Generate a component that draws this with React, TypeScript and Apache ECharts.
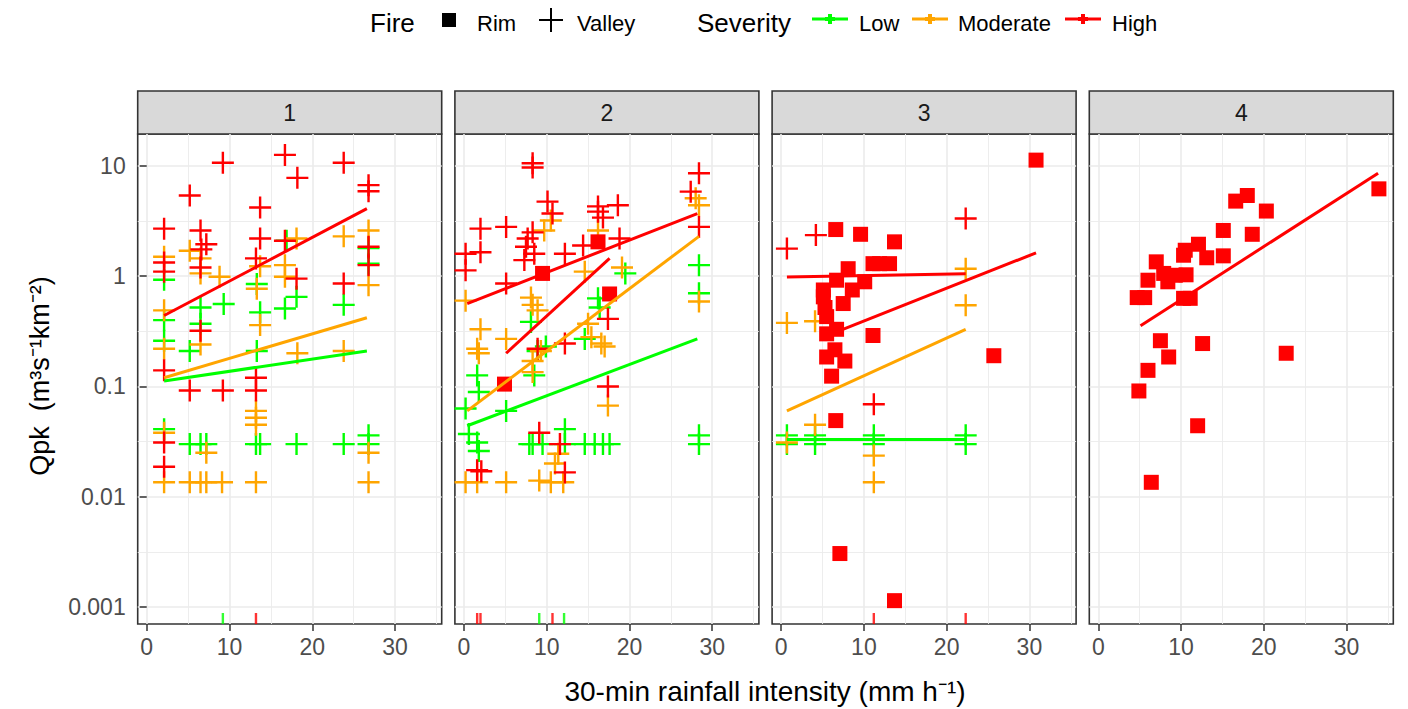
import React, { useEffect, useRef } from "react";
import * as echarts from "echarts";

type Pt = [number, number];

// ---------- axes / labels ----------
const panelLabels = ["1", "2", "3", "4"];
const xTicks = [0, 10, 20, 30];
const xMinorTicks = [5, 15, 25, 35];
const yTicks = [0.001, 0.01, 0.1, 1, 10];
const yMinorTicks = [0.00316, 0.0316, 0.316, 3.16];
const X_MIN = -1.09;
const X_MAX = 35.64;
const Y_MIN = 0.0007;
const Y_MAX = 19.5;

const severities = ["Low", "Moderate", "High"];
const fires = ["Rim", "Valley"];

// ---------- panel 1 ----------
const p1ValleyLow: Pt[] = [
  [2.1, 0.93], [2.1, 0.4], [2.1, 0.26], [5.2, 0.21], [6.5, 0.52], [6.5, 0.37], [9.3, 0.56],
  [13.7, 0.47], [13.3, 0.85], [13.3, 0.21], [16.7, 0.51], [18.1, 0.65], [16.9, 2.1], [23.8, 0.55],
  [26.8, 1.8], [26.8, 1.3], [2.1, 0.041], [5.2, 0.03], [6.5, 0.03], [7.2, 0.03], [13.2, 0.03],
  [13.7, 0.03], [18.1, 0.03], [23.8, 0.03], [26.8, 0.03], [26.8, 0.036],
];
const p1ValleyLowZero = [9.2];
const p1ValleyModerate: Pt[] = [
  [2.1, 1.5], [5.2, 1.7], [6.5, 1.45], [6.5, 1.06], [8.8, 0.99], [13.7, 1.23], [13.3, 0.77],
  [13.7, 0.36], [16.7, 1.26], [16.7, 0.99], [18.1, 2.2], [23.8, 2.3], [26.8, 2.6], [26.8, 0.83],
  [2.1, 0.49], [2.1, 0.22], [6.5, 0.24], [18.2, 0.2], [23.8, 0.21], [13.2, 0.06], [13.2, 0.052],
  [13.2, 0.045], [2.1, 0.038], [7.2, 0.025], [26.8, 0.025], [2.1, 0.0135], [5.2, 0.0135],
  [6.5, 0.0135], [7.2, 0.0135], [9.1, 0.0135], [13.2, 0.0135], [26.8, 0.0135],
];
const p1ValleyHigh: Pt[] = [
  [9.2, 10.7], [16.7, 12.6], [23.8, 10.7], [18.2, 7.8], [26.8, 6.7], [26.8, 5.9], [5.2, 5.4],
  [13.7, 4.2], [2.1, 2.7], [6.5, 2.6], [7.2, 1.95], [6.6, 1.75], [13.7, 2.2], [16.7, 2.1],
  [13.2, 1.45], [2.1, 1.33], [2.1, 1.1], [6.5, 1.2], [18.1, 0.95], [23.8, 0.86], [26.8, 1.85],
  [26.8, 1.26], [6.5, 0.32], [2.1, 0.14], [5.2, 0.092], [9.2, 0.092], [13.2, 0.12], [13.2, 0.092],
  [2.1, 0.031], [2.1, 0.0187],
];
const p1ValleyHighZero = [13.2];
const p1LineLow: Pt[] = [[2.1, 0.112], [26.6, 0.21]];
const p1LineModerate: Pt[] = [[2.1, 0.12], [26.6, 0.42]];
const p1LineHigh: Pt[] = [[2.1, 0.44], [26.6, 4.1]];

// ---------- panel 2 ----------
const p2ValleyLow: Pt[] = [
  [1.6, 0.126], [1.8, 0.089], [0.2, 0.063], [5.1, 0.06], [8.5, 0.126], [8.9, 0.21], [9.9, 0.23],
  [8.1, 0.385], [16.2, 0.63], [16.4, 0.52], [14.6, 0.27], [19.5, 1.06], [28.4, 1.26], [28.4, 0.7],
  [28.4, 0.036], [28.4, 0.03], [0.6, 0.037], [1.6, 0.031], [1.8, 0.026], [7.9, 0.03], [8.3, 0.03],
  [9.5, 0.03], [12.2, 0.03], [12.2, 0.041], [14.6, 0.03], [15.8, 0.03], [16.8, 0.03], [17.6, 0.03],
];
const p2ValleyLowZero = [9.1, 12.1];
const p2ValleyModerate: Pt[] = [
  [0.2, 0.6], [2.0, 0.33], [1.6, 0.22], [1.8, 0.2], [5.1, 0.27], [8.1, 0.64], [8.3, 0.55],
  [8.9, 0.49], [9.7, 2.6], [10.5, 3.2], [8.3, 0.17], [8.3, 0.135], [9.3, 0.21], [15.0, 0.37],
  [15.4, 0.28], [16.6, 0.245], [17.0, 0.23], [16.2, 2.6], [19.1, 1.2], [14.6, 1.1], [17.4, 0.067],
  [28.0, 5.1], [28.4, 4.4], [28.4, 0.59], [11.4, 0.0245], [11.0, 0.02], [0.2, 0.0135],
  [1.6, 0.0135], [5.1, 0.0135], [9.1, 0.014], [10.5, 0.0135], [12.0, 0.0135],
];
const p2ValleyHigh: Pt[] = [
  [8.3, 10.6], [8.3, 9.7], [28.4, 8.6], [27.4, 5.85], [10.1, 4.75], [10.7, 3.7], [16.2, 4.3],
  [16.2, 3.85], [16.8, 3.4], [18.6, 4.4], [2.0, 2.7], [5.1, 2.8], [7.7, 2.2], [8.3, 2.5],
  [8.5, 1.6], [7.5, 1.85], [7.3, 1.4], [0.2, 1.6], [0.2, 1.13], [2.0, 1.65], [12.2, 1.6],
  [14.4, 1.9], [18.8, 2.2], [28.4, 2.8], [5.1, 0.86], [17.4, 0.41], [8.9, 0.22], [12.2, 0.245],
  [17.4, 0.1], [9.1, 0.038], [11.6, 0.03], [1.6, 0.0174], [2.1, 0.017], [12.2, 0.0166],
];
const p2ValleyHighZero = [1.6, 2.0, 10.7];
const p2RimHigh: Pt[] = [[9.5, 1.06], [16.2, 2.05], [17.6, 0.69], [4.9, 0.105]];
const p2LineLow: Pt[] = [[0.4, 0.044], [28.2, 0.27]];
const p2LineModerate: Pt[] = [[0.4, 0.06], [28.4, 2.3]];
const p2LineValleyHigh: Pt[] = [[0.4, 0.565], [28.2, 3.7]];
const p2LineRimHigh: Pt[] = [[5.1, 0.2], [17.6, 1.45]];

// ---------- panel 3 ----------
const p3ValleyLow: Pt[] = [
  [0.7, 0.036], [0.7, 0.03], [4.1, 0.036], [4.1, 0.03], [11.2, 0.036], [11.2, 0.03],
  [22.3, 0.036], [22.3, 0.03],
];
const p3ValleyModerate: Pt[] = [
  [0.7, 0.377], [4.1, 0.39], [22.3, 1.17], [22.3, 0.545], [4.1, 0.045], [0.7, 0.031],
  [11.2, 0.0236], [11.2, 0.0135],
];
const p3ValleyHigh: Pt[] = [[0.7, 1.78], [4.2, 2.36], [22.3, 3.34], [11.2, 0.069]];
const p3ValleyHighZero = [11.2, 22.3];
const p3RimHigh: Pt[] = [
  [30.8, 11.3], [6.6, 2.65], [9.6, 2.4], [13.7, 2.05], [11.1, 1.3], [11.9, 1.3], [13.1, 1.3],
  [8.1, 1.17], [6.7, 0.92], [10.1, 0.89], [8.6, 0.75], [5.1, 0.75], [5.1, 0.65], [7.5, 0.565],
  [5.3, 0.52], [6.7, 0.33], [5.5, 0.3], [5.5, 0.43], [11.1, 0.29], [5.5, 0.185], [6.5, 0.215],
  [7.7, 0.17], [6.1, 0.124], [25.7, 0.19], [6.6, 0.049], [7.1, 0.00305], [13.7, 0.00114],
];
const p3LineLow: Pt[] = [[0.7, 0.033], [22.3, 0.033]];
const p3LineModerate: Pt[] = [[0.7, 0.06], [22.3, 0.33]];
const p3LineValleyHigh: Pt[] = [[0.7, 0.985], [22.3, 1.05]];
const p3LineRimHigh: Pt[] = [[5.1, 0.28], [30.8, 1.63]];

// ---------- panel 4 ----------
const p4RimHigh: Pt[] = [
  [33.9, 6.2], [18.0, 5.4], [16.6, 4.8], [20.3, 3.9], [15.1, 2.6], [18.6, 2.4], [12.1, 1.95],
  [10.5, 1.72], [10.3, 1.55], [13.1, 1.47], [15.1, 1.53], [7.0, 1.35], [7.9, 1.06], [9.3, 1.02],
  [10.6, 1.03], [8.4, 0.89], [6.0, 0.92], [4.7, 0.64], [5.6, 0.64], [10.3, 0.63], [11.1, 0.63],
  [7.5, 0.26], [12.6, 0.245], [22.7, 0.2], [8.5, 0.185], [6.0, 0.14], [4.9, 0.091], [12.0, 0.044],
  [6.4, 0.0135],
];
const p4LineRimHigh: Pt[] = [[5.1, 0.355], [33.8, 8.6]];

// ---------- styling ----------
const COLORS: Record<string, string> = { Low: "#00FF00", Moderate: "#FFA500", High: "#FF0000" };
const FONT = "'Liberation Sans', Arial, sans-serif";
const CROSS = "path://M9.8,0H12.2V9.8H22V12.2H12.2V22H9.8V12.2H0V9.8H9.8Z";
const PANEL_LEFT0 = 137.7;
const PANEL_STEP = 317.2;
const PANEL_W = 304;
const PANEL_TOP = 134;
const PANEL_H = 490;
const STRIP_TOP = 91;

type PanelSpec = {
  points: { fire: string; sev: string; data: Pt[] }[];
  zeros: { sev: string; xs: number[] }[];
  lines: { sev: string; data: Pt[] }[];
};

const panelSpecs: PanelSpec[] = [
  {
    points: [
      { fire: "Valley", sev: "Low", data: p1ValleyLow },
      { fire: "Valley", sev: "Moderate", data: p1ValleyModerate },
      { fire: "Valley", sev: "High", data: p1ValleyHigh },
    ],
    zeros: [{ sev: "Low", xs: p1ValleyLowZero }, { sev: "High", xs: p1ValleyHighZero }],
    lines: [
      { sev: "Low", data: p1LineLow },
      { sev: "Moderate", data: p1LineModerate },
      { sev: "High", data: p1LineHigh },
    ],
  },
  {
    points: [
      { fire: "Valley", sev: "Low", data: p2ValleyLow },
      { fire: "Valley", sev: "Moderate", data: p2ValleyModerate },
      { fire: "Valley", sev: "High", data: p2ValleyHigh },
      { fire: "Rim", sev: "High", data: p2RimHigh },
    ],
    zeros: [{ sev: "Low", xs: p2ValleyLowZero }, { sev: "High", xs: p2ValleyHighZero }],
    lines: [
      { sev: "Low", data: p2LineLow },
      { sev: "Moderate", data: p2LineModerate },
      { sev: "High", data: p2LineValleyHigh },
      { sev: "High", data: p2LineRimHigh },
    ],
  },
  {
    points: [
      { fire: "Valley", sev: "Low", data: p3ValleyLow },
      { fire: "Valley", sev: "Moderate", data: p3ValleyModerate },
      { fire: "Valley", sev: "High", data: p3ValleyHigh },
      { fire: "Rim", sev: "High", data: p3RimHigh },
    ],
    zeros: [{ sev: "High", xs: p3ValleyHighZero }],
    lines: [
      { sev: "Low", data: p3LineLow },
      { sev: "Moderate", data: p3LineModerate },
      { sev: "High", data: p3LineValleyHigh },
      { sev: "High", data: p3LineRimHigh },
    ],
  },
  {
    points: [{ fire: "Rim", sev: "High", data: p4RimHigh }],
    zeros: [],
    lines: [{ sev: "High", data: p4LineRimHigh }],
  },
];

function fmtY(v: number): string {
  return String(parseFloat(Number(v).toPrecision(3)));
}

function buildOption(): any {
  const grid = panelLabels.map((_, i) => ({
    left: PANEL_LEFT0 + i * PANEL_STEP,
    top: PANEL_TOP,
    width: PANEL_W,
    height: PANEL_H,
    show: true,
    borderColor: "#333333",
    borderWidth: 1.6,
    backgroundColor: "#FFFFFF",
  }));

  const xAxis: any[] = [];
  const yAxis: any[] = [];
  panelLabels.forEach((_, i) => {
    xAxis.push({
      type: "value",
      gridIndex: i,
      min: X_MIN,
      max: X_MAX,
      axisLine: { show: false },
      axisTick: { show: true, length: 7, lineStyle: { color: "#333333", width: 1.5 }, customValues: xTicks },
      axisLabel: { show: true, customValues: xTicks, fontSize: 23, color: "#4D4D4D", fontFamily: FONT, margin: 11 },
      splitLine: { show: true, lineStyle: { color: "#EBEBEB", width: 1.6 } },
    });
    xAxis.push({
      type: "value",
      gridIndex: i,
      min: X_MIN,
      max: X_MAX,
      axisLine: { show: false },
      axisTick: { show: false, customValues: xMinorTicks },
      axisLabel: { show: false, customValues: xMinorTicks },
      splitLine: { show: true, lineStyle: { color: "#EBEBEB", width: 0.9 } },
    });
    yAxis.push({
      type: "log",
      logBase: 10,
      gridIndex: i,
      min: Y_MIN,
      max: Y_MAX,
      axisLine: { show: false },
      axisTick: { show: i === 0, length: 7, lineStyle: { color: "#333333", width: 1.5 }, customValues: yTicks },
      axisLabel: {
        show: i === 0,
        customValues: yTicks,
        fontSize: 23,
        color: "#4D4D4D",
        fontFamily: FONT,
        margin: 12,
        formatter: (v: number) => fmtY(v),
      },
      splitLine: { show: true, lineStyle: { color: "#EBEBEB", width: 1.6 } },
    });
    yAxis.push({
      type: "log",
      logBase: 10,
      gridIndex: i,
      min: Y_MIN,
      max: Y_MAX,
      axisLine: { show: false },
      axisTick: { show: false, customValues: yMinorTicks },
      axisLabel: { show: false, customValues: yMinorTicks },
      splitLine: { show: true, lineStyle: { color: "#EBEBEB", width: 0.9 } },
    });
  });

  const series: any[] = [];
  panelSpecs.forEach((spec, i) => {
    const ax = i * 2;
    spec.points.forEach((g) => {
      series.push({
        type: "scatter",
        name: `${panelLabels[i]} ${g.fire} ${g.sev}`,
        xAxisIndex: ax,
        yAxisIndex: ax,
        data: g.data,
        symbol: g.fire === "Rim" ? "rect" : CROSS,
        symbolSize: g.fire === "Rim" ? 15 : 22,
        itemStyle: { color: COLORS[g.sev], opacity: 1 },
        silent: true,
        z: 3,
      });
    });
    spec.zeros.forEach((g) => {
      series.push({
        type: "scatter",
        name: `${panelLabels[i]} Valley ${g.sev} zero`,
        xAxisIndex: ax,
        yAxisIndex: ax,
        data: g.xs.map((x) => [x, Y_MIN]),
        symbol: "rect",
        symbolSize: [2.4, 11],
        symbolOffset: [0, -5.5],
        clip: false,
        itemStyle: { color: COLORS[g.sev] },
        silent: true,
        z: 3,
      });
    });
    spec.lines.forEach((l, k) => {
      series.push({
        type: "line",
        name: `${panelLabels[i]} fit ${l.sev} ${k}`,
        xAxisIndex: ax,
        yAxisIndex: ax,
        data: l.data,
        showSymbol: false,
        symbol: "none",
        lineStyle: { color: COLORS[l.sev], width: 3 },
        silent: true,
        z: 4,
      });
    });
  });

  const graphic: any[] = [];
  panelLabels.forEach((lab, i) => {
    const left = PANEL_LEFT0 + i * PANEL_STEP;
    graphic.push({
      type: "rect",
      shape: { x: left, y: STRIP_TOP, width: PANEL_W, height: PANEL_TOP - STRIP_TOP },
      style: { fill: "#D9D9D9", stroke: "#333333", lineWidth: 1.6 },
      silent: true,
    });
    graphic.push({
      type: "text",
      x: left + PANEL_W / 2,
      y: (STRIP_TOP + PANEL_TOP) / 2,
      style: { text: lab, fontSize: 23, fontFamily: FONT, fill: "#1A1A1A", align: "center", verticalAlign: "middle" },
      silent: true,
    });
  });

  // axis titles
  graphic.push({
    type: "text",
    x: 765,
    y: 691,
    style: {
      text: "30-min rainfall intensity (mm h\u207B\u00B9)",
      fontSize: 28,
      fontFamily: FONT,
      fill: "#000000",
      align: "center",
      verticalAlign: "middle",
    },
    silent: true,
  });
  graphic.push({
    type: "text",
    x: 40,
    y: 376,
    rotation: Math.PI / 2,
    style: {
      text: "Qpk  (m\u00B3s\u207B\u00B9km\u207B\u00B2)",
      fontSize: 27,
      fontFamily: FONT,
      fill: "#000000",
      align: "center",
      verticalAlign: "middle",
    },
    silent: true,
  });

  // legend: Fire
  const LY = 23;
  graphic.push({ type: "text", x: 370, y: LY, style: { text: "Fire", fontSize: 26, fontFamily: FONT, fill: "#000", verticalAlign: "middle" }, silent: true });
  graphic.push({ type: "rect", shape: { x: 442, y: 13, width: 14, height: 14 }, style: { fill: "#000" }, silent: true });
  graphic.push({ type: "text", x: 477, y: LY, style: { text: fires[0], fontSize: 22, fontFamily: FONT, fill: "#000", verticalAlign: "middle" }, silent: true });
  graphic.push({ type: "line", shape: { x1: 539, y1: 20, x2: 563, y2: 20 }, style: { stroke: "#000", lineWidth: 2 }, silent: true });
  graphic.push({ type: "line", shape: { x1: 551, y1: 8, x2: 551, y2: 32 }, style: { stroke: "#000", lineWidth: 2 }, silent: true });
  graphic.push({ type: "text", x: 577, y: LY, style: { text: fires[1], fontSize: 22, fontFamily: FONT, fill: "#000", verticalAlign: "middle" }, silent: true });

  // legend: Severity
  graphic.push({ type: "text", x: 697, y: LY, style: { text: "Severity", fontSize: 26, fontFamily: FONT, fill: "#000", verticalAlign: "middle" }, silent: true });
  const keyCenters = [830, 930, 1083];
  const textLefts = [859, 958, 1112];
  severities.forEach((s, k) => {
    const cx = keyCenters[k];
    const col = COLORS[s];
    graphic.push({ type: "line", shape: { x1: cx - 18, y1: 19, x2: cx + 18, y2: 19 }, style: { stroke: col, lineWidth: 3 }, silent: true });
    graphic.push({ type: "rect", shape: { x: cx - 5, y: 17, width: 10, height: 4 }, style: { fill: col }, silent: true });
    graphic.push({ type: "rect", shape: { x: cx - 2, y: 14, width: 4, height: 10 }, style: { fill: col }, silent: true });
    graphic.push({ type: "text", x: textLefts[k], y: LY, style: { text: s, fontSize: 22, fontFamily: FONT, fill: "#000", verticalAlign: "middle" }, silent: true });
  });

  return {
    animation: false,
    backgroundColor: "#FFFFFF",
    grid,
    xAxis,
    yAxis,
    series,
    graphic,
  };
}

export default function App() {
  const ref = useRef<HTMLDivElement>(null);
  useEffect(() => {
    if (!ref.current) return;
    const chart = echarts.init(ref.current, undefined, { renderer: "svg" });
    chart.setOption(buildOption());
    return () => chart.dispose();
  }, []);
  return (
    <div
      ref={ref}
      style={{ position: "fixed", left: 0, top: 0, width: 1408, height: 709, background: "#FFFFFF" }}
    />
  );
}
